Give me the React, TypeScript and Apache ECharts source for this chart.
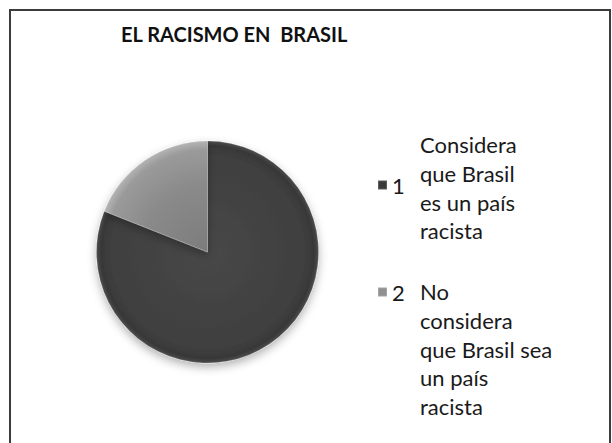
import React, { useEffect, useRef } from "react";
import * as echarts from "echarts";

const titleText = "EL RACISMO EN  BRASIL";
const categories = ["1", "2"];
const descriptions = [
  ["Considera", "que Brasil", "es un país", "racista"],
  ["No", "considera", "que Brasil sea", "un país", "racista"],
];
const values = [81, 19];

const sliceColors = [
  [
    [0, "#474747"],
    [0.86, "#404040"],
    [0.96, "#383838"],
    [1, "#4c4c4c"],
  ],
  [
    [0, "#7c7c7c"],
    [0.6, "#8a8a8a"],
    [0.92, "#9a9a9a"],
    [1, "#b4b4b4"],
  ],
];
const iconColors = ["#3a3a3a", "#909090"];

const CX = 207.5;
const CY = 252;
const R = 111;

export default function App() {
  const ref = useRef<HTMLDivElement>(null);
  useEffect(() => {
    if (!ref.current) return;
    const chart = echarts.init(ref.current, undefined, { renderer: "svg" });
    const grad = (stops: any[]) => ({
      type: "radial",
      x: CX,
      y: CY,
      r: R,
      global: true,
      colorStops: stops.map((s) => ({ offset: s[0], color: s[1] })),
    });
    const legendCenters = [185, 292];
    const textTops = [130, 277];
    const lh = 28.8;
    chart.setOption({
      animation: false,
      backgroundColor: "#ffffff",
      title: {
        text: titleText,
        left: 121,
        top: 24,
        padding: 0,
        textStyle: {
          fontFamily: "Lato",
          fontWeight: "bold",
          fontSize: 20,
          color: "#111111",
        },
      },
      legend: categories.map((c, i) => ({
        data: [{ name: c, itemStyle: { color: iconColors[i] } }],
        left: 377,
        top: legendCenters[i] - 11,
        padding: 0,
        orient: "vertical",
        icon: "rect",
        itemWidth: 9,
        itemHeight: 9,
        itemGap: 5,
        selectedMode: false,
        textStyle: {
          fontFamily: "Lato",
          fontSize: 22,
          color: "#1a1a1a",
        },
      })),
      graphic: [
        {
          type: "polyline",
          shape: {
            points: [
              [10, 443],
              [10, 10],
              [610, 10],
              [610, 443],
            ],
          },
          style: { stroke: "#3c3c3c", lineWidth: 2, fill: "none" },
          silent: true,
        },
        ...descriptions.map((lines, i) => ({
          type: "text",
          x: 420,
          y: textTops[i],
          silent: true,
          style: {
            text: lines.join("\n"),
            font: "22px Lato",
            lineHeight: lh,
            fill: "#1a1a1a",
          },
        })),
      ],
      series: [
        {
          type: "pie",
          center: [CX, CY],
          radius: [0, R],
          startAngle: 90,
          clockwise: true,
          label: { show: false },
          labelLine: { show: false },
          emphasis: { disabled: true },
          data: categories.map((c, i) => ({
            name: c,
            value: values[i],
            itemStyle: {
              color: grad(sliceColors[i]),
              borderColor: "rgba(255,255,255,0.18)",
              borderWidth: 1,
              shadowBlur: 10,
              shadowOffsetY: 4,
              shadowColor: "rgba(0,0,0,0.3)",
            },
          })),
        },
      ],
    });
    return () => chart.dispose();
  }, []);
  return (
    <div
      ref={ref}
      style={{ position: "absolute", left: 0, top: 0, width: 612, height: 443 }}
    />
  );
}
